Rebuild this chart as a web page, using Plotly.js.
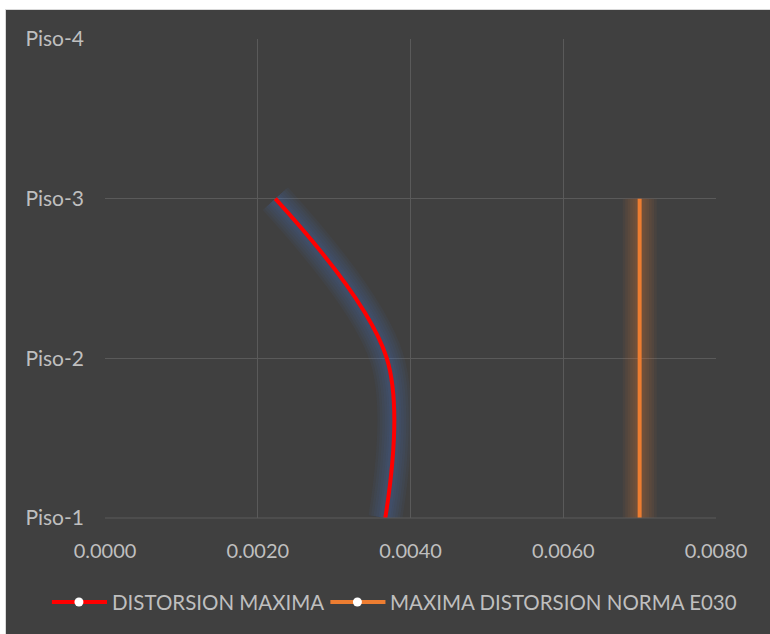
<!DOCTYPE html>
<html>
<head>
<meta charset="utf-8">
<script src="https://cdn.plot.ly/plotly-3.0.1.min.js"></script>
<style>
html,body{margin:0;padding:0;background:#ffffff;}
#wrap{position:absolute;left:5px;top:9px;width:765px;height:625px;background:#404040;border-left:1px solid #d9d9d9;border-top:1px solid #d9d9d9;}
#chart{position:absolute;left:0;top:0;width:764px;height:624px;}
</style>
</head>
<body>
<div id="wrap"><div id="chart"></div></div>
<script>
const pisos = ["Piso-1", "Piso-2", "Piso-3", "Piso-4"];
const distorsionPisos = ["Piso-1", "Piso-2", "Piso-3"];
const distorsionMaxima = [0.00367, 0.00369, 0.00223];
const normaPisos = ["Piso-1", "Piso-2", "Piso-3"];
const normaE030 = [0.007, 0.007, 0.007];
const xTicks = [0, 0.002, 0.004, 0.006, 0.008];
const seriesNames = ["DISTORSION MAXIMA", "MAXIMA DISTORSION NORMA E030"];

const red = "#FF0000", orange = "#ED7D31", txt = "#BFBFBF";
const fam = "Lato, 'Noto Sans', sans-serif";
const traces = [];
function glow(x, y, col, widths, op, shape) {
  widths.forEach(w => traces.push({
    x: x, y: y, type: "scatter", mode: "lines", showlegend: false, hoverinfo: "skip",
    line: {color: col, width: w, shape: shape, smoothing: 1}, opacity: op
  }));
}
glow(distorsionMaxima, distorsionPisos, "#4472C4", [34, 29, 24, 19, 14, 10], 0.06, "spline");
glow(normaE030, normaPisos, "#ED7D31", [34, 29, 24, 19, 14, 10], 0.055, "linear");
traces.push({x: distorsionMaxima, y: distorsionPisos, type: "scatter", mode: "lines", name: seriesNames[0], showlegend: false,
  line: {color: red, width: 4, shape: "spline", smoothing: 1}});
traces.push({x: normaE030, y: normaPisos, type: "scatter", mode: "lines", name: seriesNames[1], showlegend: false,
  line: {color: orange, width: 4}});

// legend drawn as shapes + text (paper coordinates, plot area 610x479 px)
const PW = 610, PH = 479;
const px = X => (X - 105) / PW;
const ly = (518 - 602) / PH;
const legendItems = [
  {color: red, x0: 52, x1: 107, m: 79, t: 112, name: seriesNames[0]},
  {color: orange, x0: 330, x1: 385, m: 357, t: 390, name: seriesNames[1]}
];
const shapes = [{type: "line", xref: "paper", yref: "paper", x0: 0, x1: 1, y0: 0, y1: 0,
  line: {color: "#5A5A5A", width: 1}}];
const annotations = [];
legendItems.forEach(it => {
  shapes.push({type: "line", xref: "paper", yref: "paper", x0: px(it.x0), x1: px(it.x1), y0: ly, y1: ly,
    line: {color: it.color, width: 4}});
  shapes.push({type: "circle", xref: "paper", yref: "paper", xsizemode: "pixel", ysizemode: "pixel",
    xanchor: px(it.m), yanchor: ly, x0: -4.5, x1: 4.5, y0: -4.5, y1: 4.5,
    fillcolor: "#ffffff", line: {color: "#ffffff", width: 0}});
  annotations.push({xref: "paper", yref: "paper", x: px(it.t), y: ly, xanchor: "left", yanchor: "middle",
    showarrow: false, text: it.name, font: {family: fam, size: 20.5, color: txt}, xshift: -2});
});

const tickFontX = {family: fam, size: 20, color: txt};
const tickFontY = {family: fam, size: 21, color: txt};
const layout = {
  width: 764, height: 624,
  paper_bgcolor: "#404040", plot_bgcolor: "#404040",
  margin: {l: 99, r: 54, t: 29, b: 116, autoexpand: false},
  font: {family: fam, color: txt},
  showlegend: false,
  xaxis: {
    range: [0, 0.008], tickvals: xTicks, tickformat: ".4f",
    showgrid: true, gridcolor: "#5A5A5A", gridwidth: 1,
    zeroline: false, showline: false, ticks: "", ticklabelstandoff: 19,
    tickfont: tickFontX, fixedrange: true
  },
  yaxis: {
    type: "category", categoryorder: "array", categoryarray: pisos,
    range: [0, 3], showgrid: true, gridcolor: "#5A5A5A", gridwidth: 1,
    zeroline: false, showline: false, ticks: "", ticklabelstandoff: 20,
    tickfont: tickFontY, fixedrange: true
  },
  shapes: shapes,
  annotations: annotations
};
Plotly.newPlot("chart", traces, layout, {displayModeBar: false, staticPlot: true});
</script>
</body>
</html>
